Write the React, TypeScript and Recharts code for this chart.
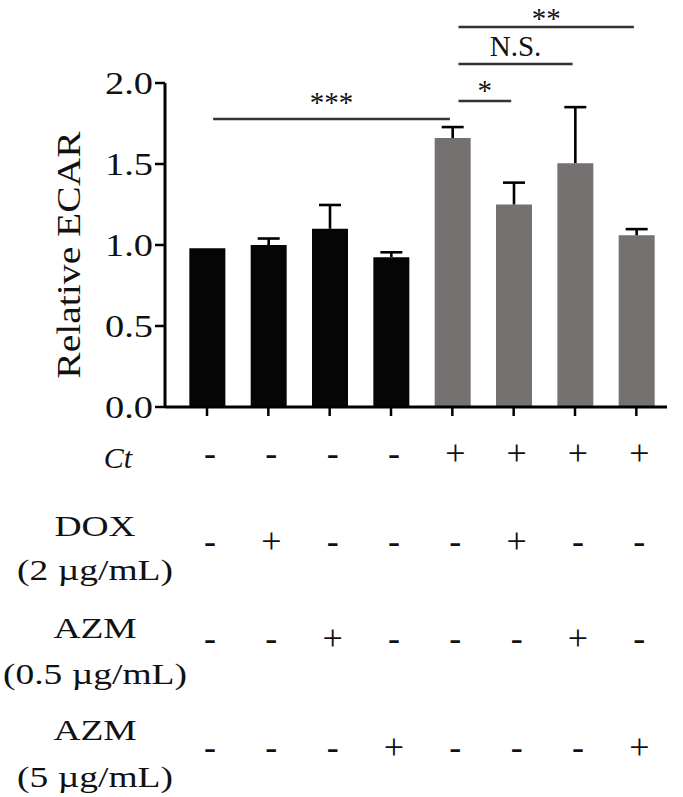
import { BarChart, Bar, XAxis, YAxis, Cell, ReferenceLine } from 'recharts';

const SERIF = '"Liberation Serif", "Times New Roman", serif';
const BLACK = '#050505';
const GRAY = '#767171';

const groups = ['Control', 'DOX', 'AZM 0.5', 'AZM 5', 'Ct', 'Ct + DOX', 'Ct + AZM 0.5', 'Ct + AZM 5'];
const ecar = [0.98, 1.0, 1.1, 0.925, 1.66, 1.25, 1.505, 1.06];
const sem = [0, 0.04, 0.147, 0.03, 0.068, 0.135, 0.346, 0.038];

const ctRow = ['-', '-', '-', '-', '+', '+', '+', '+'];
const doxRow = ['-', '+', '-', '-', '-', '+', '-', '-'];
const azmLowRow = ['-', '-', '+', '-', '-', '-', '+', '-'];
const azmHighRow = ['-', '-', '-', '+', '-', '-', '-', '+'];

const yTicks = [0, 0.5, 1, 1.5, 2];

const comparisons = [
    { from: 0, to: 4, label: '***', level: 1.778 },
    { from: 4, to: 5, label: '*', level: 1.889 },
    { from: 4, to: 6, label: 'N.S.', level: 2.117 },
    { from: 4, to: 7, label: '**', level: 2.346 },
];

const rows = [
    { title: ['Ct'], marks: ctRow },
    { title: ['DOX', '(2 µg/mL)'], marks: doxRow },
    { title: ['AZM', '(0.5 µg/mL)'], marks: azmLowRow },
    { title: ['AZM', '(5 µg/mL)'], marks: azmHighRow },
];

const data = groups.map((g, i) => ({ group: g, pos: i, value: ecar[i], err: sem[i] }));

// layout offsets below the tick text origin
const MARK_DY = [47, 135, 232, 341];
const TITLE_DY = [[50], [118, 162], [220, 266], [322, 369]];
// gap between a bracket and the baseline of its label
const LABEL_GAP: Record<string, number> = { '***': 7, '*': 1, 'N.S.': 8, '**': -1 };

function TreatmentTick(props: any) {
    const { x, y, payload } = props;
    const i = payload.value as number;
    return (
        <g fontFamily={SERIF} fill="#111">
            {rows.map((r, k) => (
                <text key={k} x={x + 3} y={y + MARK_DY[k]} textAnchor="middle" fontSize={36}>
                    {r.marks[i]}
                </text>
            ))}
            {i === 0 &&
                rows.map((r, k) =>
                    r.title.map((line, j) =>
                        k === 0 ? (
                            <text key={`${k}-${j}`} x={x - 75} y={y + TITLE_DY[k][j]} textAnchor="end"
                                fontSize={30} fontStyle="italic">
                                {line}
                            </text>
                        ) : (
                            <text key={`${k}-${j}`} textAnchor="middle" fontSize={30}
                                transform={`translate(${x - 112},${y + TITLE_DY[k][j]}) scale(1.25,1)`}>
                                {line}
                            </text>
                        )
                    )
                )}
        </g>
    );
}

function ValueTick(props: any) {
    const { x, y, payload } = props;
    return (
        <text transform={`translate(${x},${y}) scale(1.2,1)`} textAnchor="end" dy="0.35em"
            fontSize={32} fontFamily={SERIF} fill="#111">
            {Number(payload.value).toFixed(1)}
        </text>
    );
}

function YTitle(props: any) {
    const vb = props.viewBox ?? { x: 0, y: 83, width: 165, height: 324 };
    const cy = vb.y + vb.height / 2 + 10;
    return (
        <text transform={`translate(80,${cy}) rotate(-90) scale(1.2,1)`} textAnchor="middle"
            fontSize={33} fontFamily={SERIF} fill="#111">
            Relative ECAR
        </text>
    );
}

function Whisker(props: any) {
    const { x, y, width, height } = props;
    if (!height || height <= 0) return <g />;
    const cx = x + width / 2;
    return (
        <g stroke="#000" strokeWidth={2.6}>
            <line x1={cx} y1={y + height} x2={cx} y2={y} />
            <line x1={cx - 11} y1={y} x2={cx + 11} y2={y} />
        </g>
    );
}

function sigLabel(text: string) {
    return (props: any) => {
        const vb = props.viewBox ?? {};
        const x1 = vb.x1 ?? vb.x;
        const x2 = vb.x2 ?? vb.x + (vb.width ?? 0);
        const ly = vb.y1 ?? vb.y;
        const star = text.includes('*');
        return (
            <text x={(x1 + x2) / 2} y={ly - (LABEL_GAP[text] ?? 4)} textAnchor="middle"
                fontSize={star ? 29 : 29} fontFamily={SERIF} fill="#111">
                {text}
            </text>
        );
    };
}

export default function App() {
    return (
        <div style={{ position: 'absolute', left: 0, top: 0, background: '#fff' }}>
            <BarChart width={683} height={797} data={data}
                margin={{ top: 83, right: 16, bottom: 0, left: 0 }}>
                <XAxis type="number" dataKey="pos" domain={[-0.685, 7.5]}
                    ticks={groups.map((_, i) => i)} interval={0} height={390}
                    axisLine={{ stroke: '#000', strokeWidth: 3 }}
                    tickLine={{ stroke: '#000', strokeWidth: 2.5 }} tickSize={9}
                    tick={<TreatmentTick />} />
                <YAxis type="number" domain={[0, 2]} ticks={yTicks} width={165}
                    axisLine={{ stroke: '#000', strokeWidth: 3 }}
                    tickLine={{ stroke: '#000', strokeWidth: 2.5 }} tickSize={10}
                    tick={<ValueTick />} label={<YTitle />} />
                <Bar dataKey="value" stackId="a" barSize={36} isAnimationActive={false}>
                    {data.map((d, i) => (
                        <Cell key={d.group} fill={ctRow[i] === '+' ? GRAY : BLACK} />
                    ))}
                </Bar>
                <Bar dataKey="err" stackId="a" barSize={36} isAnimationActive={false}
                    shape={<Whisker />} />
                {comparisons.map((c) => (
                    <ReferenceLine key={c.label} ifOverflow="visible"
                        segment={[{ x: c.from + 0.1, y: c.level }, { x: c.to - 0.04, y: c.level }]}
                        stroke="#333" strokeWidth={2.5}
                        label={sigLabel(c.label)} />
                ))}
            </BarChart>
        </div>
    );
}
